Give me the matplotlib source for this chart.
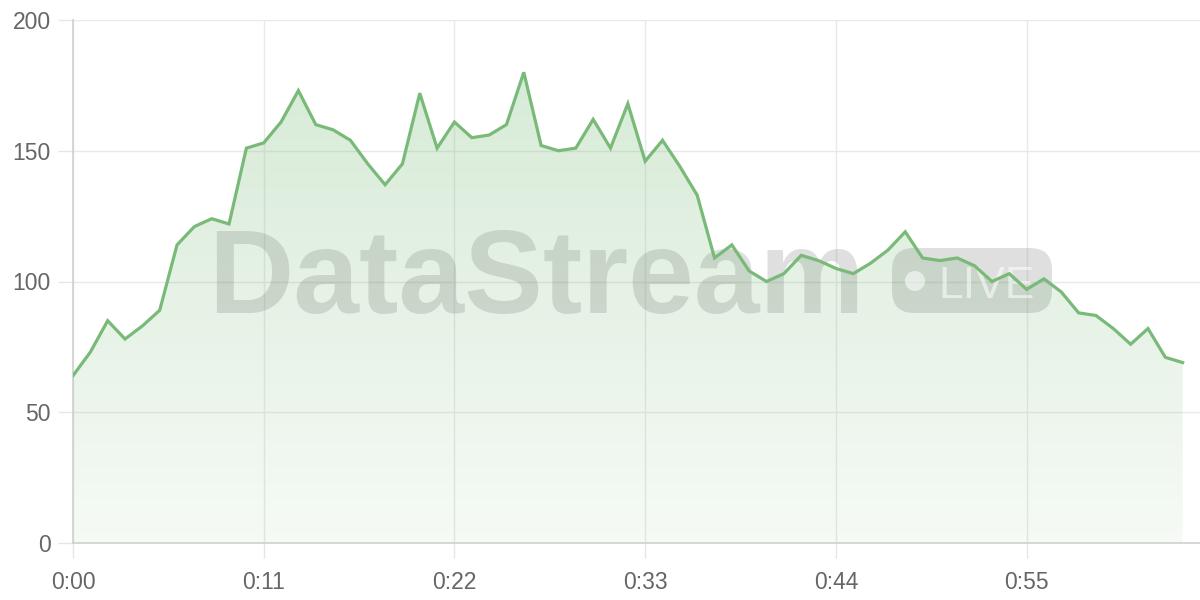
import matplotlib
matplotlib.use("Agg")
import matplotlib.pyplot as plt
import numpy as np
from matplotlib.patches import FancyBboxPatch, Circle

# Data (minutes elapsed, value)
minutes = list(range(65))
values = [64, 73, 85, 78, 83, 89, 114, 121, 124, 122,
          151, 153, 161, 173, 160, 158, 154, 145, 137, 145,
          172, 151, 161, 155, 156, 160, 180, 152, 150, 151,
          162, 151, 168, 146, 154, 144, 133, 109, 114, 104,
          100, 103, 110, 108, 105, 103, 107, 112, 119, 109,
          108, 109, 106, 100, 103, 97, 101, 96, 88, 87,
          82, 76, 82, 71, 69]
x_ticks = [0, 11, 22, 33, 44, 55]
x_tick_labels = ["0:00", "0:11", "0:22", "0:33", "0:44", "0:55"]
y_ticks = [0, 50, 100, 150, 200]
watermark = "DataStream"
badge = "LIVE"

W, H = 1200, 600
fig = plt.figure(figsize=(12, 6), dpi=100)
ax = fig.add_axes([73 / W, 1 - 543 / H, 1 - 73 / W, (543 - 20) / H])

line_color = "#79ba79"
x = np.array(minutes, dtype=float)
y = np.array(values, dtype=float)

# gradient fill under the line
poly = ax.fill_between(x, y, 0, color="none", linewidth=0, zorder=1)
grad = np.linspace(0.32, 0.07, 256).reshape(-1, 1)
rgba = np.zeros((256, 1, 4))
rgba[..., 0] = 0.47
rgba[..., 1] = 0.73
rgba[..., 2] = 0.47
rgba[..., 3] = grad
img = ax.imshow(rgba, extent=[x[0], x[-1], 0, 200], origin="upper",
                aspect="auto", zorder=1, interpolation="bilinear")
path = poly.get_paths()[0]
img.set_clip_path(path, transform=ax.transData)

ax.plot(x, y, color=line_color, linewidth=2.3, zorder=4,
        solid_joinstyle="miter")

ax.set_xlim(0, 65)
ax.set_ylim(0, 200)
ax.set_xticks(x_ticks)
ax.set_xticklabels(x_tick_labels)
ax.set_yticks(y_ticks)

ax.grid(True, color="#e9e9e9", linewidth=1.0, zorder=0)
ax.set_axisbelow(True)
for s in ["top", "right"]:
    ax.spines[s].set_visible(False)
ax.spines["left"].set_color("#d0d0d0")
ax.spines["bottom"].set_color("#d0d0d0")
ax.spines["left"].set_linewidth(1.2)
ax.spines["bottom"].set_linewidth(1.2)
ax.tick_params(axis="both", colors="#e6e6e6", length=11, width=1.0,
               labelcolor="#666666", labelsize=16.5)
ax.tick_params(axis="y", pad=5)
ax.tick_params(axis="x", pad=9)
for lab in ax.get_xticklabels() + ax.get_yticklabels():
    lab.set_fontfamily("Liberation Sans")

# watermark (pixel positions measured from top-left)
wm_gray = (0.45, 0.47, 0.45, 0.23)
ax.text(208 / W, 1 - 313 / H, watermark, transform=fig.transFigure,
        fontsize=85, fontweight="bold", family="Liberation Sans",
        color=wm_gray, ha="left", va="baseline", zorder=3, clip_on=False)
pill = FancyBboxPatch((892, H - 313), 1052 - 892, 313 - 248,
                      boxstyle="round,pad=0,rounding_size=22",
                      transform=None, facecolor=wm_gray,
                      edgecolor="none", zorder=3, clip_on=False)
ax.add_patch(pill)
dot = Circle((915, H - 281), 10, transform=None, facecolor=(1, 1, 1, 0.55),
             edgecolor="none", zorder=3.1, clip_on=False)
ax.add_patch(dot)
ax.text(938 / W, 1 - 298 / H, badge, transform=fig.transFigure,
        fontsize=32, family="Liberation Sans", color=(1, 1, 1, 0.55),
        ha="left", va="baseline", zorder=3.1, clip_on=False)

fig.savefig("out.png", dpi=100)
